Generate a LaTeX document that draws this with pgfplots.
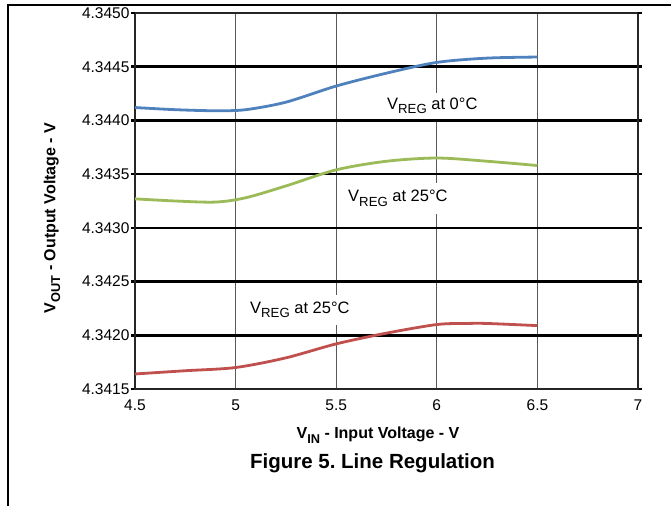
\documentclass[border=0pt]{standalone}
\usepackage{fontspec}
\setmainfont{Liberation Sans}
\usepackage{pgfplots}
\pgfplotsset{compat=1.18}

\definecolor{regblue}{HTML}{4F81BD}
\definecolor{reggreen}{HTML}{9BBB59}
\definecolor{regred}{HTML}{C0504D}
\newcommand{\sub}[1]{\raisebox{-0.3em}{\scalebox{0.8}{#1}}}
\frenchspacing

\begin{document}
\begin{tikzpicture}
\useasboundingbox (0,0) rectangle (671pt,506pt);
% page frame
\draw[line width=1.2pt] (8pt,0) -- (8pt,501pt) -- (671pt,501pt);

\begin{axis}[
	at={(135pt,117pt)}, anchor=south west,
	scale only axis,
	width=503pt, height=376pt,
	xmin=4.5, xmax=7,
	ymin=4.3415, ymax=4.3450,
	xtick={4.5,5,5.5,6,6.5,7},
	ytick={4.3415,4.3420,4.3425,4.3430,4.3435,4.3440,4.3445},
	extra y ticks={4.3450},
	extra y tick style={grid=none},
	scaled y ticks=false,
	yticklabel style={xshift=2pt, /pgf/number format/.cd, fixed, fixed zerofill, precision=4},
	/pgf/number format/assume math mode=true,
	tick label style={font=\fontsize{15.5}{18}\selectfont},
	xticklabel style={yshift=-3pt},
	tick align=outside,
	major tick length=4pt,
	xtick style={draw=none},
	ytick style={black, line width=2.5pt},
	axis line style={black!85, line width=2pt},
	xmajorgrids, ymajorgrids,
	every axis x grid/.style={black!65, line width=1pt},
	every axis y grid/.style={black, line width=2.5pt},
	xlabel={V\sub{IN} - Input Voltage - V},
	xlabel style={font=\bfseries\fontsize{16}{19}\selectfont,
		at={(axis description cs:0.483,-0.131)}, anchor=base},
	ylabel={V\sub{OUT} - Output Voltage - V},
	ylabel style={font=\bfseries\fontsize{16}{19}\selectfont,
		at={(axis description cs:-0.165,0.455)}, anchor=center},
	clip=false,
	every axis plot/.append style={line width=2.8pt, smooth, no marks},
	nodes={font=\fontsize{16.5}{19}\selectfont},
]

% V_REG at 0 C
\addplot[color=regblue] coordinates {
	(4.5,4.34412) (4.7,4.34410) (4.9,4.34409) (5.05,4.34410) (5.25,4.34417)
	(5.5,4.34432) (5.75,4.34444) (6.0,4.34454) (6.25,4.34458) (6.5,4.34459)};

% V_REG at 25 C
\addplot[color=reggreen] coordinates {
	(4.5,4.34327) (4.7,4.34325) (4.9,4.34324) (5.05,4.34328) (5.25,4.34339)
	(5.5,4.34354) (5.75,4.34362) (6.0,4.34365) (6.25,4.34362) (6.5,4.34358)};

% V_REG at 25 C (lower)
\addplot[color=regred] coordinates {
	(4.5,4.34164) (4.75,4.34167) (5.0,4.34170) (5.25,4.34179) (5.5,4.34192)
	(5.75,4.34202) (6.0,4.34210) (6.15,4.34211) (6.25,4.34211) (6.5,4.34209)};

\node[anchor=base west, fill=white, inner xsep=2pt, inner ysep=4.5pt, xshift=-2pt]
	at (axis cs:5.7525,4.344106) {V\sub{REG} at 0°C};
\node[anchor=base west, fill=white, inner xsep=2pt, inner ysep=7pt, xshift=-2pt]
	at (axis cs:5.5587,4.343241) {V\sub{REG} at 25°C};
\node[anchor=base west, fill=white, inner xsep=2pt, inner ysep=7pt, xshift=-2pt]
	at (axis cs:5.0716,4.342207) {V\sub{REG} at 25°C};

\end{axis}

\node[anchor=base, font=\bfseries\fontsize{20.5}{24}\selectfont]
	at (372.5pt,38pt) {Figure 5. Line Regulation};
\end{tikzpicture}
\end{document}
